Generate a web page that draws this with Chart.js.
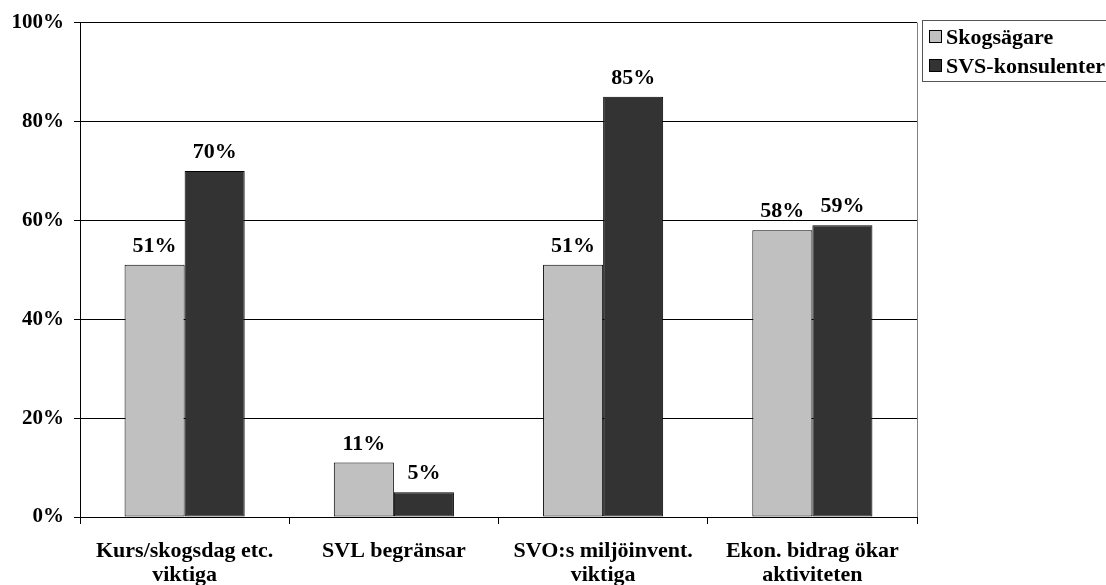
<!DOCTYPE html>
<html>
<head>
<meta charset="utf-8">
<script src="https://cdn.jsdelivr.net/npm/chart.js@4/dist/chart.umd.min.js"></script>
<style>
  html, body { margin: 0; padding: 0; background: #fff; }
  #wrap { width: 1106px; height: 585px; }
</style>
</head>
<body>
<div id="wrap"><canvas id="chart"></canvas></div>
<script>
// data
const categories = [
  ['Kurs/skogsdag etc.', 'viktiga'],
  'SVL begränsar',
  ['SVO:s miljöinvent.', 'viktiga'],
  ['Ekon. bidrag ökar', 'aktiviteten']
];
const skogsagare = [51, 11, 51, 58];
const konsulenter = [70, 5, 85, 59];
const seriesNames = ['Skogsägare', 'SVS-konsulenter'];
const yTicks = [0, 20, 40, 60, 80, 100];

const FONT = '"Liberation Serif", "Times New Roman", serif';

// value labels above each bar
const valueLabels = {
  id: 'valueLabels',
  afterDatasetsDraw(chart) {
    const ctx = chart.ctx;
    ctx.save();
    ctx.font = 'bold 22px ' + FONT;
    ctx.fillStyle = '#000';
    ctx.textAlign = 'center';
    ctx.textBaseline = 'alphabetic';
    chart.data.datasets.forEach((ds, i) => {
      chart.getDatasetMeta(i).data.forEach((bar, j) => {
        ctx.fillText(ds.data[j] + '%', bar.x, bar.y - 13);
      });
    });
    ctx.restore();
  }
};

// right border of plot + boxed legend
const frameAndLegend = {
  id: 'frameAndLegend',
  afterDraw(chart) {
    const ctx = chart.ctx;
    const a = chart.chartArea;
    ctx.save();
    ctx.strokeStyle = '#808080';
    ctx.lineWidth = 1;
    ctx.beginPath();
    ctx.moveTo(a.right + 0.5, a.top);
    ctx.lineTo(a.right + 0.5, a.bottom);
    ctx.stroke();

    // legend box
    ctx.strokeStyle = '#555';
    ctx.strokeRect(922.5, 20.5, 190, 61);
    ctx.font = 'bold 22px ' + FONT;
    ctx.textBaseline = 'middle';
    ctx.textAlign = 'left';
    chart.data.datasets.forEach((ds, i) => {
      const y = 37 + i * 29;
      ctx.fillStyle = ds.backgroundColor;
      ctx.fillRect(929.5, y - 6.5, 12, 12);
      ctx.strokeStyle = '#000';
      ctx.strokeRect(929.5, y - 6.5, 12, 12);
      ctx.fillStyle = '#000';
      ctx.fillText(ds.label, 946, y + 1);
    });
    ctx.restore();
  }
};

const chart = new Chart(document.getElementById('chart'), {
  type: 'bar',
  data: {
    labels: categories,
    datasets: [{
      label: seriesNames[0],
      data: skogsagare,
      backgroundColor: '#C0C0C0',
      borderColor: '#000',
      borderWidth: 1,
      borderSkipped: false
    }, {
      label: seriesNames[1],
      data: konsulenter,
      backgroundColor: '#333333',
      borderColor: '#000',
      borderWidth: 1,
      borderSkipped: false
    }]
  },
  options: {
    responsive: true,
    maintainAspectRatio: false,
    animation: false,
    events: [],
    layout: { padding: { top: 22, right: 189, bottom: 0, left: 0 } },
    datasets: { bar: { categoryPercentage: 0.574, barPercentage: 1 } },
    plugins: {
      legend: { display: false },
      tooltip: { enabled: false }
    },
    scales: {
      y: {
        min: 0,
        max: 100,
        afterBuildTicks: s => { s.ticks = yTicks.map(v => ({ value: v })); },
        afterFit: s => { s.width = 80; },
        ticks: {
          callback: v => v + '%',
          color: '#000',
          padding: 10,
          font: { family: FONT, size: 21, weight: 'bold' }
        },
        grid: { color: '#000', lineWidth: 1, tickLength: 6 },
        border: { color: '#000', width: 1 }
      },
      x: {
        afterFit: s => { s.height = 68; },
        ticks: {
          color: '#000',
          padding: 15,
          maxRotation: 0,
          autoSkip: false,
          font: { family: FONT, size: 22, weight: 'bold', lineHeight: 1.1 }
        },
        grid: { drawOnChartArea: false, color: '#000', tickLength: 7, offset: true },
        border: { color: '#000', width: 1 }
      }
    }
  },
  plugins: [valueLabels, frameAndLegend]
});
</script>
</body>
</html>
